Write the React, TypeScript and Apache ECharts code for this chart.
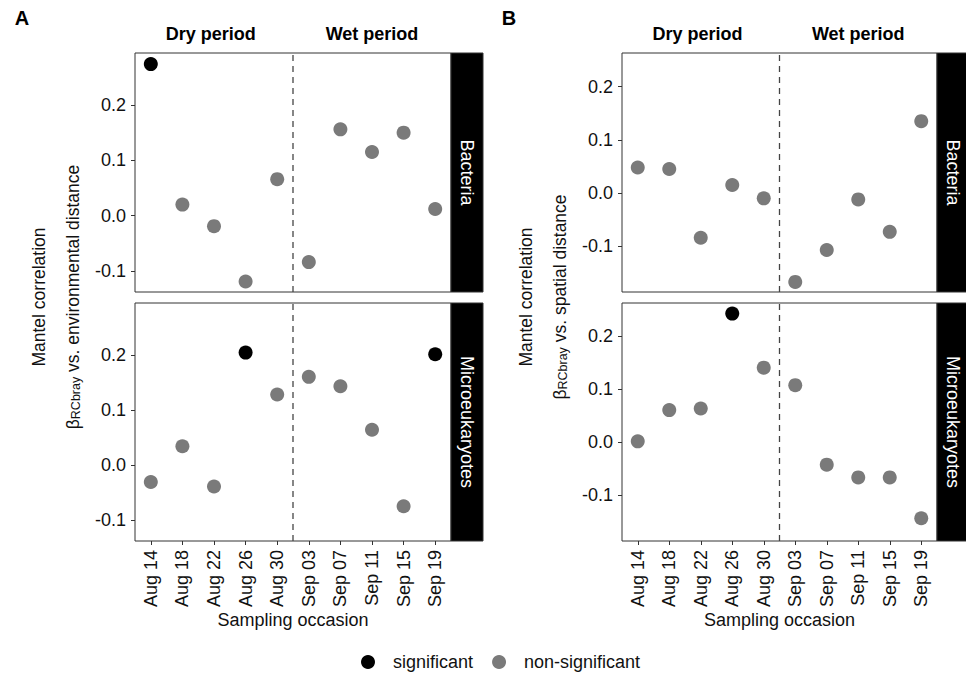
import React, { useEffect, useRef } from "react";
import * as echarts from "echarts";

const dates = ["Aug 14", "Aug 18", "Aug 22", "Aug 26", "Aug 30", "Sep 03", "Sep 07", "Sep 11", "Sep 15", "Sep 19"];
const yTicks = [-0.1, 0, 0.1, 0.2];

const envBacteria = [0.274, 0.020, -0.019, -0.119, 0.066, -0.084, 0.156, 0.115, 0.150, 0.012];
const envBacteriaSig = [1, 0, 0, 0, 0, 0, 0, 0, 0, 0];
const envMicro = [-0.031, 0.034, -0.039, 0.204, 0.128, 0.160, 0.143, 0.064, -0.075, 0.201];
const envMicroSig = [0, 0, 0, 1, 0, 0, 0, 0, 0, 1];
const spaBacteria = [0.048, 0.045, -0.084, 0.015, -0.010, -0.167, -0.107, -0.012, -0.073, 0.135];
const spaBacteriaSig = [0, 0, 0, 0, 0, 0, 0, 0, 0, 0];
const spaMicro = [0.002, 0.061, 0.064, 0.243, 0.141, 0.108, -0.042, -0.066, -0.066, -0.143];
const spaMicroSig = [0, 0, 0, 1, 0, 0, 0, 0, 0, 0];

const envRange = [-0.138, 0.294];
const spaRange = [-0.186, 0.263];
const periodBoundary = 4.5;
const periods = ["Dry period", "Wet period"];
const legendNames = ["significant", "non-significant"];

const FONT = "'Liberation Sans', Arial, Helvetica, sans-serif";
const SIG_COLOR = "#000000";
const NS_COLOR = "#7a7a7a";
const BORDER = "#333333";
const TEXT = "#111111";
const STRIP_W = 32;

const panels = [
  { left: 135, top: 53, width: 316, height: 239, strip: "Bacteria", values: envBacteria, sig: envBacteriaSig, range: envRange, bottom: false },
  { left: 135, top: 303, width: 316, height: 238, strip: "Microeukaryotes", values: envMicro, sig: envMicroSig, range: envRange, bottom: true },
  { left: 622, top: 53, width: 315, height: 239, strip: "Bacteria", values: spaBacteria, sig: spaBacteriaSig, range: spaRange, bottom: false },
  { left: 622, top: 303, width: 315, height: 238, strip: "Microeukaryotes", values: spaMicro, sig: spaMicroSig, range: spaRange, bottom: true },
];

const columns = [
  { label: "A", labelX: 22, title2: " vs. environmental distance", t1x: 39, t2x: 70, plotLeft: 135, plotWidth: 316 },
  { label: "B", labelX: 509, title2: " vs. spatial distance", t1x: 526, t2x: 557, plotLeft: 622, plotWidth: 315 },
];

function buildOption() {
  const grid: any[] = [];
  const xAxis: any[] = [];
  const yAxis: any[] = [];
  const series: any[] = [];
  const graphic: any[] = [];

  panels.forEach((p, i) => {
    grid.push({
      left: p.left,
      top: p.top,
      width: p.width,
      height: p.height,
      show: true,
      borderColor: BORDER,
      borderWidth: 1,
      backgroundColor: "#ffffff",
      containLabel: false,
    });
    xAxis.push({
      type: "category",
      gridIndex: i,
      data: dates,
      boundaryGap: true,
      position: "bottom",
      axisLine: { show: false, onZero: false },
      axisTick: { show: p.bottom, alignWithLabel: true, length: 4, lineStyle: { color: BORDER, width: 1 } },
      axisLabel: { show: p.bottom, rotate: 90, margin: 9, fontSize: 18, color: TEXT, fontFamily: FONT, interval: 0 },
      splitLine: { show: false },
      name: p.bottom ? "Sampling occasion" : "",
      nameLocation: "middle",
      nameGap: 70,
      nameTextStyle: { fontSize: 18, color: TEXT, fontFamily: FONT },
    });
    xAxis.push({
      type: "value",
      gridIndex: i,
      min: -0.5,
      max: 9.5,
      show: false,
      axisLine: { onZero: false },
    });
    yAxis.push({
      type: "value",
      gridIndex: i,
      position: "left",
      min: p.range[0],
      max: p.range[1],
      axisLine: { show: false, onZero: false },
      splitLine: { show: false },
      axisTick: { show: true, length: 4, customValues: yTicks, lineStyle: { color: BORDER, width: 1 } },
      axisLabel: {
        customValues: yTicks,
        margin: 9,
        fontSize: 18,
        color: TEXT,
        fontFamily: FONT,
        formatter: (v: number) => v.toFixed(1),
      },
    });

    series.push({
      type: "line",
      xAxisIndex: 2 * i + 1,
      yAxisIndex: i,
      data: [[periodBoundary, p.range[0]], [periodBoundary, p.range[1]]],
      symbol: "none",
      silent: true,
      lineStyle: { color: "#444444", width: 1.3, type: [6, 5] },
      z: 1,
    });
    series.push({
      type: "scatter",
      name: legendNames[1],
      xAxisIndex: 2 * i,
      yAxisIndex: i,
      symbolSize: 14,
      itemStyle: { color: NS_COLOR, opacity: 1 },
      data: p.values.map((v, k) => [k, v]).filter((_, k) => !p.sig[k]),
      z: 3,
    });
    series.push({
      type: "scatter",
      name: legendNames[0],
      xAxisIndex: 2 * i,
      yAxisIndex: i,
      symbolSize: 14,
      itemStyle: { color: SIG_COLOR, opacity: 1 },
      data: p.values.map((v, k) => [k, v]).filter((_, k) => !!p.sig[k]),
      z: 4,
    });

    graphic.push({
      type: "rect",
      shape: { x: p.left + p.width, y: p.top, width: STRIP_W, height: p.height },
      style: { fill: "#000000", stroke: BORDER, lineWidth: 1 },
      silent: true,
    });
    graphic.push({
      type: "text",
      x: p.left + p.width + STRIP_W / 2,
      y: p.top + p.height / 2,
      rotation: -Math.PI / 2,
      style: { text: p.strip, fill: "#ffffff", fontSize: 18, fontFamily: FONT, align: "center", verticalAlign: "middle" },
      silent: true,
    });
  });

  columns.forEach((c) => {
    graphic.push({
      type: "text",
      x: c.labelX,
      y: 18,
      style: { text: c.label, fill: "#000", fontSize: 20, fontWeight: "bold", fontFamily: FONT, align: "center", verticalAlign: "middle" },
    });
    [0.24, 0.75].forEach((f, j) => {
      graphic.push({
        type: "text",
        x: c.plotLeft + c.plotWidth * f,
        y: 34,
        style: { text: periods[j], fill: "#000", fontSize: 18, fontWeight: "bold", fontFamily: FONT, align: "center", verticalAlign: "middle" },
      });
    });
    graphic.push({
      type: "text",
      x: c.t1x,
      y: 297,
      rotation: Math.PI / 2,
      style: { text: "Mantel correlation", fill: TEXT, fontSize: 17.5, fontFamily: FONT, align: "center", verticalAlign: "middle" },
    });
    graphic.push({
      type: "text",
      x: c.t2x + 3,
      y: 297,
      rotation: Math.PI / 2,
      style: {
        text: "{b|β}{s|RCbray}{n|" + c.title2 + "}",
        fill: TEXT,
        fontFamily: FONT,
        align: "center",
        verticalAlign: "middle",
        rich: {
          b: { fontSize: 17.5, fontFamily: FONT, fill: TEXT, verticalAlign: "top", lineHeight: 18 },
          s: { fontSize: 12.5, fontFamily: FONT, fill: TEXT, verticalAlign: "bottom", lineHeight: 12, padding: [10, 0, 0, 0] },
          n: { fontSize: 17.5, fontFamily: FONT, fill: TEXT, verticalAlign: "top", lineHeight: 18 },
        },
      },
    });
  });

  return {
    animation: false,
    backgroundColor: "#ffffff",
    textStyle: { fontFamily: FONT },
    legend: {
      data: legendNames,
      left: 361,
      top: 653,
      padding: 0,
      itemWidth: 14,
      itemHeight: 14,
      itemGap: 19,
      icon: "circle",
      textStyle: { fontSize: 18, color: TEXT, fontFamily: FONT, padding: [0, 0, 0, 13] },
    },
    grid,
    xAxis,
    yAxis,
    series,
    graphic,
  };
}

export default function App() {
  const ref = useRef<HTMLDivElement>(null);
  useEffect(() => {
    if (!ref.current) return;
    const chart = echarts.init(ref.current, undefined, { renderer: "svg" });
    chart.setOption(buildOption() as any);
    return () => chart.dispose();
  }, []);
  return <div ref={ref} style={{ position: "fixed", left: 0, top: 0, width: 966, height: 676 }} />;
}
